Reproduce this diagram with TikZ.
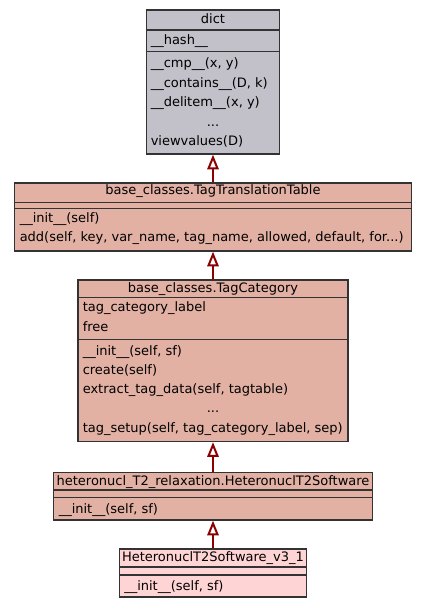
\documentclass[tikz,border=0pt]{standalone}
\usepackage{fontspec}
\setmainfont{DejaVu Sans}
\usetikzlibrary{arrows.meta}
\definecolor{dictgray}{HTML}{C2C0C8}
\definecolor{basesalmon}{HTML}{E3B1A4}
\definecolor{leafpink}{HTML}{FFD4D4}
\definecolor{edgered}{HTML}{8B0000}
\tikzstyle{classbox} = [rectangle, draw=black!80, line width=1pt, inner sep=0pt]
\tikzstyle{sep} = [draw=black!80, line width=1pt]
\tikzstyle{title} = [anchor=base, inner sep=0pt]
\tikzstyle{member} = [anchor=base west, inner sep=0pt]
\tikzstyle{arrow} = [edgered, line width=1.5pt, -{Triangle[open, length=11pt, width=8.5pt]}]

\begin{document}
\begin{tikzpicture}[x=0.75pt, y=-0.75pt, font=\fontsize{9.75}{12}\selectfont]
        \useasboundingbox (0,0) rectangle (427,608);

        % class boxes
        \node (dict) [classbox, fill=dictgray, minimum width=100.1pt, minimum height=108pt] at (213,82) {};
        \node (ttt) [classbox, fill=basesalmon, minimum width=297.4pt, minimum height=51pt] at (213,217) {};
        \node (tcat) [classbox, fill=basesalmon, minimum width=202.5pt, minimum height=121.1pt] at (213,360.75) {};
        \node (hetero) [classbox, fill=basesalmon, minimum width=238.9pt, minimum height=35.6pt] at (213,496.25) {};
        \node (leaf) [classbox, fill=leafpink, minimum width=140.25pt, minimum height=36pt] at (213,573) {};

        % separators
        \draw [sep] (dict.west |- 0,30) -- (dict.east |- 0,30);
        \draw [sep] (dict.west |- 0,51.5) -- (dict.east |- 0,51.5);
        \draw [sep] (ttt.west |- 0,202.5) -- (ttt.east |- 0,202.5);
        \draw [sep] (ttt.west |- 0,208.5) -- (ttt.east |- 0,208.5);
        \draw [sep] (tcat.west |- 0,297.5) -- (tcat.east |- 0,297.5);
        \draw [sep] (tcat.west |- 0,339.5) -- (tcat.east |- 0,339.5);
        \draw [sep] (hetero.west |- 0,490) -- (hetero.east |- 0,490);
        \draw [sep] (hetero.west |- 0,497.5) -- (hetero.east |- 0,497.5);
        \draw [sep] (leaf.west |- 0,567) -- (leaf.east |- 0,567);
        \draw [sep] (leaf.west |- 0,575) -- (leaf.east |- 0,575);

        % dict
        \node (dict-t) [title] at (213,23.3) {dict};
        \node (dict-a1) [member] at (150.5,44.3) {\_\_hash\_\_};
        \node (dict-m1) [member] at (150.5,67.7) {\_\_cmp\_\_(x, y)};
        \node (dict-m2) [member] at (150.5,87.2) {\_\_contains\_\_(D, k)};
        \node (dict-m3) [member] at (150.5,106.7) {\_\_delitem\_\_(x, y)};
        \node (dict-m4) [title] at (213,126.2) {...};
        \node (dict-m5) [member] at (150.5,145.7) {viewvalues(D)};

        % base_classes.TagTranslationTable
        \node (ttt-t) [title] at (213,194.5) {base\_classes.TagTranslationTable};
        \node (ttt-m1) [member] at (19.5,222.7) {\_\_init\_\_(self)};
        \node (ttt-m2) [member] at (19.5,241.7) {add(self, key, var\_name, tag\_name, allowed, default, for...)};

        % base_classes.TagCategory
        \node (tcat-t) [title] at (213,292.5) {base\_classes.TagCategory};
        \node (tcat-a1) [member] at (82.5,311.7) {tag\_category\_label};
        \node (tcat-a2) [member] at (82.5,331) {free};
        \node (tcat-m1) [member] at (82.5,355) {\_\_init\_\_(self, sf)};
        \node (tcat-m2) [member] at (82.5,374.3) {create(self)};
        \node (tcat-m3) [member] at (82.5,393.6) {extract\_tag\_data(self, tagtable)};
        \node (tcat-m4) [title] at (213,412.9) {...};
        \node (tcat-m5) [member] at (82.5,432) {tag\_setup(self, tag\_category\_label, sep)};

        % heteronucl_T2_relaxation.HeteronuclT2Software
        \node (hetero-t) [title] at (213,485) {heteronucl\_T2\_relaxation.HeteronuclT2Software};
        \node (hetero-m1) [member] at (58.5,513.3) {\_\_init\_\_(self, sf)};

        % HeteronuclT2Software_v3_1
        \node (leaf-t) [title] at (213,561.7) {HeteronuclT2Software\_v3\_1};
        \node (leaf-m1) [member] at (124,590) {\_\_init\_\_(self, sf)};

        \draw [arrow] (ttt) -- (dict);
        \draw [arrow] (tcat) -- (ttt);
        \draw [arrow] (hetero) -- (tcat);
        \draw [arrow] (leaf) -- (hetero);
    \end{tikzpicture}
\end{document}
